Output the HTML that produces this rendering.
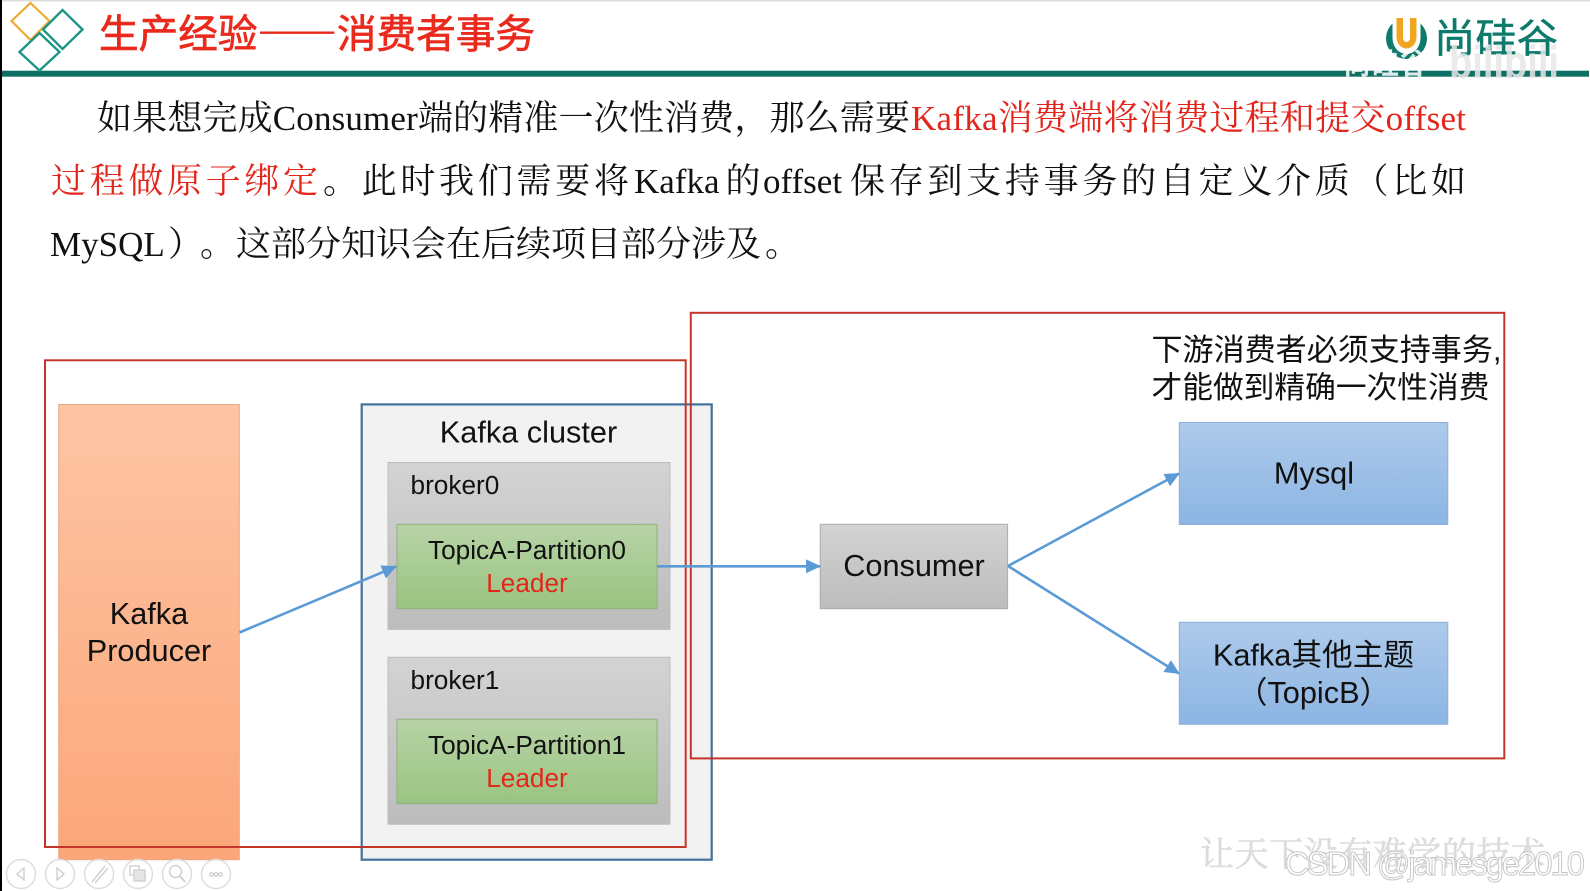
<!DOCTYPE html>
<html lang="zh">
<head>
<meta charset="utf-8">
<title>生产经验——消费者事务</title>
<style>
html,body{margin:0;padding:0;background:#fff;}
body{width:1590px;height:891px;overflow:hidden;position:relative;}
svg{display:block;position:absolute;left:0;top:0;}
.ser{font-family:"Liberation Serif","Noto Serif CJK SC",serif;font-size:35px;fill:#111;}
.red{fill:#e3261b;}
.san{font-family:"Liberation Sans","Noto Sans CJK SC",sans-serif;fill:#111;}
.f31{font-size:30.7px;}
.f26{font-size:26.2px;}
.ldr{fill:#e3261b;}
</style>
</head>
<body>
<svg width="1590" height="891" viewBox="0 0 1590 891" xmlns="http://www.w3.org/2000/svg">
<defs>
<linearGradient id="gOr" x1="0" y1="0" x2="0" y2="1"><stop offset="0" stop-color="#fdc5a5"/><stop offset="1" stop-color="#fca679"/></linearGradient>
<linearGradient id="gGr" x1="0" y1="0" x2="0" y2="1"><stop offset="0" stop-color="#d3d3d3"/><stop offset="1" stop-color="#bcbcbc"/></linearGradient>
<linearGradient id="gGn" x1="0" y1="0" x2="0" y2="1"><stop offset="0" stop-color="#b7d3a6"/><stop offset="1" stop-color="#9ac481"/></linearGradient>
<linearGradient id="gBl" x1="0" y1="0" x2="0" y2="1"><stop offset="0" stop-color="#aecaeb"/><stop offset="1" stop-color="#8cb5e3"/></linearGradient>
<marker id="ah" markerUnits="userSpaceOnUse" markerWidth="15" markerHeight="14" refX="14" refY="7" orient="auto"><path d="M0 0L15 7L0 14Z" fill="#5b9bd5"/></marker>
</defs>

<!-- frame -->
<rect x="0" y="0" width="1590" height="891" fill="#fff"/>
<rect x="0" y="0" width="1590" height="1.5" fill="#dcdcdc"/>
<rect x="0" y="0" width="2" height="891" fill="#000"/>

<!-- header rule -->
<rect x="2" y="70.7" width="1587" height="6" fill="#0e6f64"/>

<!-- diamonds -->
<polygon points="30.5,3 49.5,21 30.5,40 11.5,21" fill="none" stroke="#eeaa2d" stroke-width="2.2"/>
<polygon points="62.5,10 82.5,29.5 62.5,49 43,29.5" fill="none" stroke="#1f9488" stroke-width="2.4"/>
<polygon points="39.5,33 59.5,52 39.5,70.5 19.5,52" fill="none" stroke="#1f9488" stroke-width="2.4"/>

<!-- title -->
<text x="99" y="48" font-family="'Noto Sans CJK SC',sans-serif" font-size="39.5" fill="#ea2a1c" stroke="#ea2a1c" stroke-width=".7" textLength="436" lengthAdjust="spacingAndGlyphs">生产经验——消费者事务</text>

<!-- logo -->
<path d="M1392.500 23.500 A20.500 20.500 0 1 0 1420.500 23.500 L1420.500 38 A14 16 0 0 1 1392.500 38 Z" fill="#0e7a6c"/>
<path d="M1396.500 18 L1396.500 37 A10 11.500 0 0 0 1416.500 37 L1416.500 18 L1410 18 L1410 38 A3.500 4 0 0 1 1403 38 L1403 18 Z" fill="#f2a51e"/>
<text x="1434" y="52" font-family="'Noto Sans CJK SC',sans-serif" font-weight="400" font-size="40" fill="#0e7a6c" stroke="#0e7a6c" stroke-width=".5" textLength="124" lengthAdjust="spacingAndGlyphs">尚硅谷</text>

<!-- bilibili watermark -->
<text x="1343" y="74" font-family="'Noto Sans CJK SC',sans-serif" font-weight="700" font-size="29" fill="#fff" fill-opacity=".85" textLength="84" lengthAdjust="spacingAndGlyphs">尚硅谷</text>
<text x="1449" y="78" font-family="'Liberation Sans',sans-serif" font-weight="700" font-size="46" fill="#e6e6e6" fill-opacity=".85" textLength="110" lengthAdjust="spacingAndGlyphs">bilibili</text>

<!-- paragraph -->
<text class="ser" x="97" y="130" textLength="813" lengthAdjust="spacing">如果想完成Consumer端的精准一次性消费，那么需要</text>
<text class="ser red" x="911" y="130" textLength="555" lengthAdjust="spacing">Kafka消费端将消费过程和提交offset</text>
<text class="ser red" x="51" y="193" textLength="267" lengthAdjust="spacing">过程做原子绑定</text>
<text class="ser" x="323" y="193" textLength="306" lengthAdjust="spacing">。此时我们需要将</text>
<text class="ser" x="634" y="193">Kafka</text>
<text class="ser" x="725.500" y="193">的</text>
<text class="ser" x="763" y="193">offset</text>
<text class="ser" x="850" y="193" textLength="616" lengthAdjust="spacing">保存到支持事务的自定义介质（比如</text>
<text class="ser" x="50" y="256">MySQL</text>
<text class="ser" x="168" y="256">）</text>
<text class="ser" x="200" y="256">。</text>
<text class="ser" x="236" y="256" textLength="525" lengthAdjust="spacing">这部分知识会在后续项目部分涉及</text>
<text class="ser" x="765" y="256">。</text>

<!-- producer -->
<rect x="58.7" y="404.5" width="180.6" height="455.2" fill="url(#gOr)" stroke="#eba67f" stroke-width="1"/>
<text class="san f31" x="149" y="624" text-anchor="middle">Kafka</text>
<text class="san f31" x="149" y="661" text-anchor="middle">Producer</text>

<!-- cluster -->
<rect x="361.7" y="404.4" width="350" height="455.3" fill="#f2f2f2" stroke="#41719c" stroke-width="2.2"/>
<text class="san f31" x="528.5" y="442.5" text-anchor="middle">Kafka cluster</text>

<rect x="388" y="462.5" width="282" height="166.9" fill="url(#gGr)" stroke="#bdbdbd" stroke-width="1"/>
<text class="san f26" x="410.5" y="494">broker0</text>
<rect x="397" y="524.3" width="260" height="84.4" fill="url(#gGn)" stroke="#8fb17a" stroke-width="1"/>
<text class="san f26" x="527" y="559" text-anchor="middle">TopicA-Partition0</text>
<text class="san f26 ldr" x="527" y="592" text-anchor="middle">Leader</text>

<rect x="388" y="657.3" width="282" height="167" fill="url(#gGr)" stroke="#bdbdbd" stroke-width="1"/>
<text class="san f26" x="410.5" y="689">broker1</text>
<rect x="397" y="719.2" width="260" height="84.4" fill="url(#gGn)" stroke="#8fb17a" stroke-width="1"/>
<text class="san f26" x="527" y="754" text-anchor="middle">TopicA-Partition1</text>
<text class="san f26 ldr" x="527" y="787" text-anchor="middle">Leader</text>

<!-- consumer -->
<rect x="820.2" y="524.3" width="187.4" height="84.4" fill="url(#gGr)" stroke="#adadad" stroke-width="1"/>
<text class="san f31" x="914" y="576" text-anchor="middle">Consumer</text>

<!-- targets -->
<rect x="1179.300" y="422.5" width="268.500" height="102" fill="url(#gBl)" stroke="#8fb0d8" stroke-width="1"/>
<text class="san f31" x="1314" y="483.6" text-anchor="middle">Mysql</text>
<rect x="1179.300" y="622.3" width="268.500" height="102" fill="url(#gBl)" stroke="#8fb0d8" stroke-width="1"/>
<text class="san f31" x="1313.5" y="665.6" text-anchor="middle">Kafka其他主题</text>
<text class="san f31" x="1313.5" y="703" text-anchor="middle">（TopicB）</text>

<!-- note -->
<text class="san f31" x="1151.5" y="360.4" textLength="350" lengthAdjust="spacingAndGlyphs">下游消费者必须支持事务,</text>
<text class="san f31" x="1151.5" y="397.8" textLength="338" lengthAdjust="spacingAndGlyphs">才能做到精确一次性消费</text>

<!-- red boxes -->
<rect x="45" y="360.3" width="640.7" height="486.7" fill="none" stroke="#c4352a" stroke-width="2"/>
<rect x="690.8" y="312.8" width="813.5" height="445.6" fill="none" stroke="#c4352a" stroke-width="2"/>

<!-- connectors -->
<line x1="239.5" y1="632.5" x2="396" y2="566.5" stroke="#5b9bd5" stroke-width="2.600" marker-end="url(#ah)"/>
<line x1="657" y1="566.3" x2="820" y2="566.3" stroke="#5b9bd5" stroke-width="2.600" marker-end="url(#ah)"/>
<line x1="1008" y1="566" x2="1179" y2="473.5" stroke="#5b9bd5" stroke-width="2.600" marker-end="url(#ah)"/>
<line x1="1008" y1="566" x2="1179" y2="673.5" stroke="#5b9bd5" stroke-width="2.600" marker-end="url(#ah)"/>

<!-- toolbar -->
<g fill="none" stroke="#dcdcdc" stroke-width="1.4">
<circle cx="21" cy="874" r="14.5"/>
<circle cx="60" cy="874" r="14.5"/>
<circle cx="99" cy="874" r="14.5"/>
<circle cx="138" cy="874" r="14.5"/>
<circle cx="177" cy="874" r="14.5"/>
<circle cx="216" cy="874" r="14.5"/>
<path d="M24 868L17 874L24 880Z" stroke="#cfcfcf"/>
<path d="M57 868L64 874L57 880Z" stroke="#cfcfcf"/>
<path d="M92 882L105 866M95 883L108 868" stroke="#cfcfcf"/>
<rect x="130" y="866" width="9" height="9" stroke="#cfcfcf"/>
<rect x="134" y="870" width="11" height="11" fill="#e6e6e6" stroke="#cfcfcf"/>
<circle cx="175.500" cy="871.500" r="6" stroke="#cfcfcf"/>
<path d="M180 876L185 882" stroke="#cfcfcf" stroke-width="2"/>
<circle cx="211.500" cy="874.500" r="1.800" stroke="#cfcfcf"/>
<circle cx="216" cy="874.500" r="1.800" stroke="#cfcfcf"/>
<circle cx="220.500" cy="874.500" r="1.800" stroke="#cfcfcf"/>
</g>

<!-- bottom right watermarks -->
<text x="1200" y="866" font-family="'Noto Serif CJK SC',serif" font-size="34" fill="#dcdcdc" stroke="#dcdcdc" stroke-width=".6" textLength="345" lengthAdjust="spacing">让天下没有难学的技术</text>
<text x="1285" y="875" font-family="'Liberation Sans',sans-serif" font-size="33" fill="#fff" stroke="#c4c4c4" stroke-width=".9" textLength="300" lengthAdjust="spacing">CSDN @jamesge2010</text>
</svg>
</body>
</html>
